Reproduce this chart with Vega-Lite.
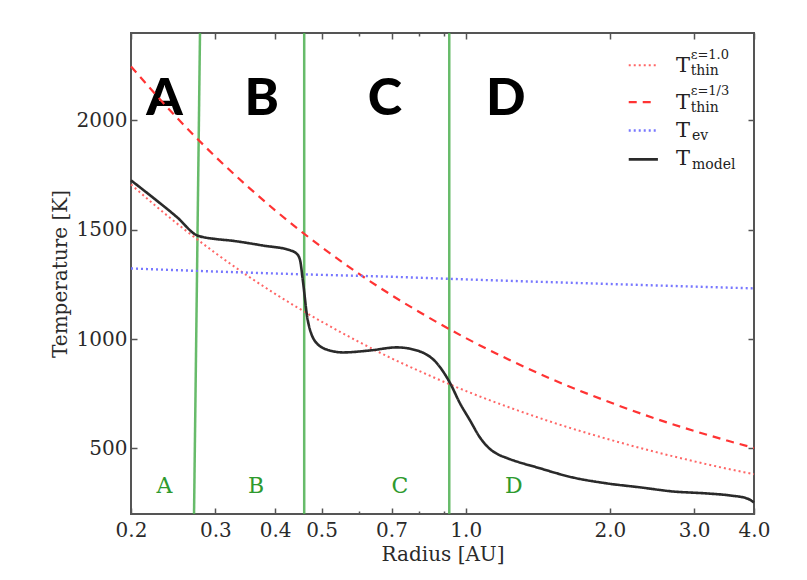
{
  "$schema": "https://vega.github.io/schema/vega-lite/v6.json",
  "width": 623,
  "height": 481,
  "autosize": "none",
  "padding": {"left": 131, "top": 33, "right": 53, "bottom": 66},
  "background": "white",
  "config": {
    "view": {"stroke": "#555555", "strokeWidth": 2, "fill": "white"},
    "axis": {
      "domain": false,
      "grid": false,
      "labelFont": "DejaVu Serif",
      "titleFont": "DejaVu Serif",
      "labelFontSize": 20,
      "titleFontSize": 20,
      "labelColor": "#2a2a2a",
      "titleColor": "#2a2a2a",
      "titleFontWeight": "normal",
      "tickColor": "#555555",
      "tickWidth": 1.5
    }
  },
  "datasets": {
    "curves": [
      {"series": "thin_eps1", "radius": 0.2, "temperature": 1707},
      {"series": "thin_eps1", "radius": 0.25, "temperature": 1527},
      {"series": "thin_eps1", "radius": 0.3, "temperature": 1394},
      {"series": "thin_eps1", "radius": 0.35, "temperature": 1290},
      {"series": "thin_eps1", "radius": 0.4, "temperature": 1207},
      {"series": "thin_eps1", "radius": 0.5, "temperature": 1080},
      {"series": "thin_eps1", "radius": 0.6, "temperature": 986},
      {"series": "thin_eps1", "radius": 0.7, "temperature": 912},
      {"series": "thin_eps1", "radius": 0.8, "temperature": 854},
      {"series": "thin_eps1", "radius": 1.0, "temperature": 763},
      {"series": "thin_eps1", "radius": 1.25, "temperature": 683},
      {"series": "thin_eps1", "radius": 1.5, "temperature": 623},
      {"series": "thin_eps1", "radius": 2.0, "temperature": 540},
      {"series": "thin_eps1", "radius": 2.5, "temperature": 483},
      {"series": "thin_eps1", "radius": 3.0, "temperature": 441},
      {"series": "thin_eps1", "radius": 3.5, "temperature": 408},
      {"series": "thin_eps1", "radius": 4.0, "temperature": 382},
      {"series": "thin_eps13", "radius": 0.2, "temperature": 2247},
      {"series": "thin_eps13", "radius": 0.25, "temperature": 2010},
      {"series": "thin_eps13", "radius": 0.3, "temperature": 1835},
      {"series": "thin_eps13", "radius": 0.35, "temperature": 1699},
      {"series": "thin_eps13", "radius": 0.4, "temperature": 1589},
      {"series": "thin_eps13", "radius": 0.5, "temperature": 1421},
      {"series": "thin_eps13", "radius": 0.6, "temperature": 1297},
      {"series": "thin_eps13", "radius": 0.7, "temperature": 1201},
      {"series": "thin_eps13", "radius": 0.8, "temperature": 1124},
      {"series": "thin_eps13", "radius": 1.0, "temperature": 1005},
      {"series": "thin_eps13", "radius": 1.25, "temperature": 899},
      {"series": "thin_eps13", "radius": 1.5, "temperature": 820},
      {"series": "thin_eps13", "radius": 2.0, "temperature": 711},
      {"series": "thin_eps13", "radius": 2.5, "temperature": 635},
      {"series": "thin_eps13", "radius": 3.0, "temperature": 580},
      {"series": "thin_eps13", "radius": 3.5, "temperature": 537},
      {"series": "thin_eps13", "radius": 4.0, "temperature": 502},
      {"series": "ev", "radius": 0.2, "temperature": 1323},
      {"series": "ev", "radius": 0.3, "temperature": 1309},
      {"series": "ev", "radius": 0.46, "temperature": 1296},
      {"series": "ev", "radius": 0.7, "temperature": 1285},
      {"series": "ev", "radius": 1.0, "temperature": 1273},
      {"series": "ev", "radius": 2.0, "temperature": 1252},
      {"series": "ev", "radius": 3.0, "temperature": 1240},
      {"series": "ev", "radius": 4.0, "temperature": 1232},
      {"series": "model", "radius": 0.2, "temperature": 1726},
      {"series": "model", "radius": 0.225, "temperature": 1638},
      {"series": "model", "radius": 0.25, "temperature": 1556},
      {"series": "model", "radius": 0.275, "temperature": 1474},
      {"series": "model", "radius": 0.3, "temperature": 1458},
      {"series": "model", "radius": 0.322, "temperature": 1451},
      {"series": "model", "radius": 0.377, "temperature": 1428},
      {"series": "model", "radius": 0.43, "temperature": 1406},
      {"series": "model", "radius": 0.444, "temperature": 1390},
      {"series": "model", "radius": 0.451, "temperature": 1360},
      {"series": "model", "radius": 0.457, "temperature": 1268},
      {"series": "model", "radius": 0.468, "temperature": 1085},
      {"series": "model", "radius": 0.489, "temperature": 980},
      {"series": "model", "radius": 0.52, "temperature": 948},
      {"series": "model", "radius": 0.554, "temperature": 939},
      {"series": "model", "radius": 0.631, "temperature": 948},
      {"series": "model", "radius": 0.718, "temperature": 962},
      {"series": "model", "radius": 0.791, "temperature": 948},
      {"series": "model", "radius": 0.871, "temperature": 889},
      {"series": "model", "radius": 0.927, "temperature": 800},
      {"series": "model", "radius": 0.973, "temperature": 706},
      {"series": "model", "radius": 1.021, "temperature": 628},
      {"series": "model", "radius": 1.071, "temperature": 550},
      {"series": "model", "radius": 1.124, "temperature": 497},
      {"series": "model", "radius": 1.17, "temperature": 472},
      {"series": "model", "radius": 1.219, "temperature": 456},
      {"series": "model", "radius": 1.429, "temperature": 409},
      {"series": "model", "radius": 1.675, "temperature": 367},
      {"series": "model", "radius": 1.972, "temperature": 340},
      {"series": "model", "radius": 2.31, "temperature": 322},
      {"series": "model", "radius": 2.71, "temperature": 303},
      {"series": "model", "radius": 3.19, "temperature": 294},
      {"series": "model", "radius": 3.56, "temperature": 285},
      {"series": "model", "radius": 3.87, "temperature": 271},
      {"series": "model", "radius": 4.0, "temperature": 253}
    ],
    "zones": [
      {"r_top": 0.2787, "r_bottom": 0.2708, "t_top": 2400, "t_bottom": 200},
      {"r_top": 0.46, "r_bottom": 0.46, "t_top": 2400, "t_bottom": 200},
      {"r_top": 0.924, "r_bottom": 0.924, "t_top": 2400, "t_bottom": 200}
    ],
    "zoneLabels": [
      {"zone": "A", "radius": 0.235, "temperature": 294},
      {"zone": "B", "radius": 0.365, "temperature": 294},
      {"zone": "C", "radius": 0.729, "temperature": 294},
      {"zone": "D", "radius": 1.261, "temperature": 294}
    ],
    "bigLabels": [
      {"zone": "A", "radius": 0.235, "temperature": 2023},
      {"zone": "B", "radius": 0.375, "temperature": 2023},
      {"zone": "C", "radius": 0.678, "temperature": 2023},
      {"zone": "D", "radius": 1.213, "temperature": 2023}
    ],
    "legendKeys": [
      {"series": "thin_eps1", "r_start": 2.19, "r_end": 2.5, "temperature": 2252},
      {"series": "thin_eps13", "r_start": 2.19, "r_end": 2.5, "temperature": 2084},
      {"series": "ev", "r_start": 2.19, "r_end": 2.5, "temperature": 1954},
      {"series": "model", "r_start": 2.19, "r_end": 2.52, "temperature": 1822}
    ],
    "legendMain": [
      {"label": "T", "radius": 2.75, "temperature": 2221},
      {"label": "T", "radius": 2.75, "temperature": 2053},
      {"label": "T", "radius": 2.75, "temperature": 1924},
      {"label": "T", "radius": 2.75, "temperature": 1794}
    ],
    "legendSub": [
      {"label": "thin", "radius": 2.95, "temperature": 2207},
      {"label": "thin", "radius": 2.95, "temperature": 2040},
      {"label": "ev", "radius": 2.97, "temperature": 1909},
      {"label": "model", "radius": 2.97, "temperature": 1779}
    ],
    "legendSup": [
      {"label": "ε=1.0", "radius": 2.95, "temperature": 2282},
      {"label": "ε=1/3", "radius": 2.95, "temperature": 2116}
    ]
  },
  "layer": [
    {
      "data": {"name": "bigLabels"},
      "mark": {"type": "text", "font": "Lato", "fontWeight": 900, "fontSize": 52, "color": "#000000", "baseline": "alphabetic", "align": "center"},
      "encoding": {
        "x": {"field": "radius", "type": "quantitative", "scale": {"type": "log", "domain": [0.2, 4], "nice": false},
          "axis": {"orient": "top", "values": [0.6, 0.8, 0.9], "labels": false, "tickSize": -3, "title": null}},
        "y": {"field": "temperature", "type": "quantitative", "scale": {"domain": [200, 2400], "nice": false, "zero": false}, "axis": null},
        "text": {"field": "zone"}
      }
    },
    {
      "data": {"name": "zones"},
      "mark": {"type": "rule", "color": "#4caf50", "strokeWidth": 2.5, "opacity": 0.85},
      "encoding": {
        "x": {"field": "r_top", "type": "quantitative",
          "axis": {"orient": "top", "values": [0.2, 0.3, 0.4, 0.5, 0.7, 1, 2, 3, 4], "labels": false, "tickSize": -6, "title": null}},
        "x2": {"field": "r_bottom"},
        "y": {"field": "t_top", "type": "quantitative",
          "axis": {"orient": "right", "values": [500, 1000, 1500, 2000], "labels": false, "tickSize": -6, "title": null}},
        "y2": {"field": "t_bottom"}
      }
    },
    {
      "data": {"name": "curves"},
      "mark": {"type": "line", "interpolate": "monotone"},
      "encoding": {
        "x": {"field": "radius", "type": "quantitative",
          "axis": {"orient": "bottom", "values": [0.2, 0.3, 0.4, 0.5, 0.7, 1, 2, 3, 4], "format": ".1f", "tickSize": -6, "labelPadding": 12, "labelFlush": false, "title": "Radius [AU]", "titlePadding": 4}},
        "y": {"field": "temperature", "type": "quantitative",
          "axis": {"orient": "left", "values": [500, 1000, 1500, 2000], "format": "d", "tickSize": -6, "labelPadding": 10, "title": "Temperature [K]", "titlePadding": 6}},
        "color": {"field": "series", "type": "nominal",
          "scale": {"domain": ["thin_eps1", "thin_eps13", "ev", "model"], "range": ["#ff6666", "#ff3333", "#7777ff", "#2a2a2a"]}, "legend": null},
        "strokeDash": {"field": "series", "type": "nominal",
          "scale": {"domain": ["thin_eps1", "thin_eps13", "ev", "model"], "range": [[2, 3], [8, 6], [2, 3], [1, 0]]}, "legend": null},
        "strokeWidth": {"field": "series", "type": "nominal",
          "scale": {"domain": ["thin_eps1", "thin_eps13", "ev", "model"], "range": [2, 2.6, 2, 2]}, "legend": null}
      }
    },
    {
      "data": {"name": "zoneLabels"},
      "mark": {"type": "text", "font": "DejaVu Serif", "fontSize": 22, "color": "#2e9a2e", "baseline": "alphabetic", "align": "center"},
      "encoding": {
        "x": {"field": "radius", "type": "quantitative",
          "axis": {"orient": "bottom", "values": [0.6, 0.8, 0.9], "labels": false, "tickSize": -3, "title": null}},
        "y": {"field": "temperature", "type": "quantitative", "axis": null},
        "text": {"field": "zone"}
      }
    },
    {
      "data": {"name": "legendKeys"},
      "mark": {"type": "rule"},
      "encoding": {
        "x": {"field": "r_start", "type": "quantitative", "axis": null},
        "x2": {"field": "r_end"},
        "y": {"field": "temperature", "type": "quantitative", "axis": null},
        "color": {"field": "series", "type": "nominal", "legend": null},
        "strokeDash": {"field": "series", "type": "nominal", "legend": null},
        "strokeWidth": {"field": "series", "type": "nominal", "legend": null}
      }
    },
    {
      "data": {"name": "legendMain"},
      "mark": {"type": "text", "font": "DejaVu Serif", "fontSize": 21, "color": "#222222", "baseline": "alphabetic", "align": "left"},
      "encoding": {
        "x": {"field": "radius", "type": "quantitative", "axis": null},
        "y": {"field": "temperature", "type": "quantitative", "axis": null},
        "text": {"field": "label"}
      }
    },
    {
      "data": {"name": "legendSub"},
      "mark": {"type": "text", "font": "DejaVu Serif", "fontSize": 14, "color": "#222222", "baseline": "alphabetic", "align": "left"},
      "encoding": {
        "x": {"field": "radius", "type": "quantitative", "axis": null},
        "y": {"field": "temperature", "type": "quantitative", "axis": null},
        "text": {"field": "label"}
      }
    },
    {
      "data": {"name": "legendSup"},
      "mark": {"type": "text", "font": "DejaVu Serif", "fontSize": 13, "color": "#222222", "baseline": "alphabetic", "align": "left"},
      "encoding": {
        "x": {"field": "radius", "type": "quantitative", "axis": null},
        "y": {"field": "temperature", "type": "quantitative", "axis": null},
        "text": {"field": "label"}
      }
    }
  ],
  "resolve": {"axis": {"x": "independent", "y": "independent"}}
}
